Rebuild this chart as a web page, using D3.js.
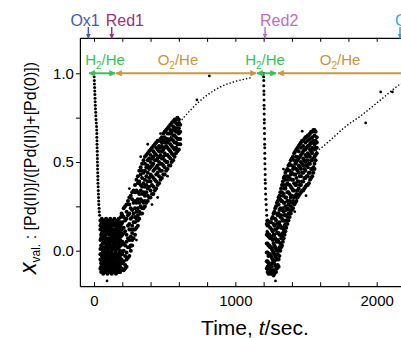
<!DOCTYPE html>
<html>
<head>
<meta charset="utf-8">
<script src="https://cdn.jsdelivr.net/npm/d3@7/dist/d3.min.js"></script>
<style>
  body { margin: 0; background: #fff; }
  svg { display: block; font-family: "Liberation Sans", Arial, sans-serif; }
</style>
</head>
<body>
<div id="chart"></div>
<script>
// values: t in sec, x_val
const dropOne = [[0,1.00],[1,0.98],[2,0.96],[3,0.94],[4,0.92],[5,0.90],[6,0.88],[7,0.86],[8,0.84],[9,0.82],[10,0.80],[12,0.78],[13,0.76],[14,0.74],[16,0.72],[18,0.70],[19,0.68],[20,0.66],[20,0.64],[21,0.62],[21,0.60],[22,0.58],[23,0.56],[23,0.54],[24,0.52],[24,0.50],[25,0.48],[25,0.46],[26,0.44],[27,0.42],[27,0.40],[28,0.38],[29,0.36],[30,0.34],[31,0.32],[32,0.30],[33,0.28],[34,0.26],[36,0.24],[37,0.22],[39,0.20]];

const dropTwo = [[1200,1.00],[1200,0.98],[1201,0.96],[1201,0.93],[1202,0.90],[1202,0.88],[1203,0.85],[1203,0.82],[1204,0.80],[1204,0.77],[1205,0.74],[1205,0.72],[1206,0.69],[1206,0.66],[1207,0.63],[1207,0.60],[1208,0.58],[1208,0.55],[1209,0.52],[1209,0.49],[1210,0.46],[1211,0.43],[1211,0.40],[1212,0.38],[1213,0.35],[1214,0.32],[1216,0.29],[1218,0.26],[1220,0.23],[1222,0.20],[1223,0.17],[1224,0.14],[1225,0.11]];

// dense clouds, one column of readings per time step
const cycleOne = [
  [45,[0.17,0.14,0.12,0.06,0.01,-0.02,-0.05,-0.10]],
  [50,[0.15,0.09,0.07,0.03,-0.02,-0.07,-0.09,-0.12]],
  [55,[0.18,0.13,0.10,0.08,0.02,-0.03,-0.06,-0.09,-0.11]],
  [60,[0.16,0.14,0.10,0.04,-0.01,-0.04,-0.06,-0.12]],
  [65,[0.16,0.11,0.08,0.06,0.00,-0.04,-0.08,-0.10,-0.13]],
  [70,[0.13,0.08,0.05,0.02,-0.03,-0.06,-0.10]],
  [75,[0.17,0.14,0.12,0.05,0.01,-0.02,-0.05,-0.08,-0.12]],
  [80,[0.15,0.09,0.07,0.04,-0.02,-0.04,-0.07,-0.11]],
  [85,[0.18,0.11,0.09,0.07,0.02,-0.01,-0.04,-0.09,-0.12]],
  [90,[0.14,0.12,0.10,0.03,-0.01,-0.06,-0.08,-0.10]],
  [95,[0.16,0.12,0.06,0.04,0.00,-0.03,-0.08,-0.11,-0.13]],
  [100,[0.13,0.10,0.07,0.02,-0.01,-0.04,-0.07,-0.11]],
  [105,[0.17,0.14,0.11,0.05,0.01,-0.05,-0.09,-0.12]],
  [110,[0.15,0.12,0.09,0.04,-0.02,-0.05,-0.07,-0.11]],
  [115,[0.18,0.13,0.07,0.05,0.03,-0.03,-0.08,-0.10,-0.12]],
  [120,[0.14,0.10,0.06,0.02,-0.01,-0.06,-0.10]],
  [125,[0.16,0.11,0.09,0.06,0.00,-0.02,-0.04,-0.09,-0.13]],
  [130,[0.12,0.08,0.05,0.03,-0.03,-0.07,-0.09,-0.11]],
  [135,[0.17,0.14,0.12,0.05,0.01,-0.05,-0.10,-0.12]],
  [140,[0.15,0.09,0.07,0.04,-0.02,-0.04,-0.08,-0.11]],
  [145,[0.18,0.11,0.09,0.07,0.02,-0.03,-0.07,-0.12]],
  [150,[0.14,0.12,0.10,0.03,-0.01,-0.06,-0.08,-0.10]],
  [155,[0.16,0.12,0.06,0.04,0.00,-0.04,-0.09,-0.11,-0.13]],
  [160,[0.13,0.08,0.05,0.02,-0.03,-0.05,-0.07,-0.11]],
  [165,[0.17,0.14,0.11,0.05,0.01,-0.02,-0.05,-0.10,-0.12]],
  [170,[0.15,0.12,0.09,0.04,-0.02,-0.08,-0.11]],
  [175,[0.18,0.13,0.07,0.05,0.02,-0.03,-0.07,-0.09,-0.12]],
  [180,[0.14,0.10,0.06,0.03,-0.01,-0.06,-0.10]],
  [185,[0.16,0.12,0.09,0.06,0.00,-0.04,-0.07,-0.09,-0.12]],
  [190,[0.19,0.13,0.10,0.08,0.03,-0.02,-0.07,-0.11]],
  [195,[0.21,0.15,0.12,0.09,0.04,-0.01,-0.05,-0.10]],
  [200,[0.20,0.16,0.09,0.05,-0.02,-0.07]],
  [210,[0.24,0.19,0.13,0.10,0.04,0.00,-0.06,-0.11]],
  [220,[0.25,0.17,0.11,0.03,-0.03,-0.08,-0.10]],
  [230,[0.26,0.22,0.18,0.09,0.05,-0.01,-0.05,-0.09]],
  [240,[0.28,0.20,0.14,0.07,0.02,-0.04]],
  [250,[0.30,0.26,0.21,0.15,0.12,0.06,0.02,-0.03]],
  [260,[0.31,0.24,0.18,0.12,0.08,0.03,0.00]],
  [270,[0.33,0.29,0.23,0.19,0.14,0.10,0.06,0.03]],
  [280,[0.34,0.27,0.21,0.16,0.12,0.07]],
  [290,[0.37,0.33,0.28,0.24,0.19,0.16,0.12,0.09]],
  [300,[0.40,0.34,0.27,0.22,0.18,0.13]],
  [310,[0.42,0.38,0.33,0.29,0.24,0.20,0.17,0.14]],
  [320,[0.45,0.39,0.32,0.27,0.22,0.18]],
  [330,[0.47,0.43,0.37,0.34,0.29,0.25,0.21]],
  [340,[0.49,0.45,0.41,0.36,0.32,0.28,0.24,0.21]],
  [350,[0.51,0.44,0.38,0.33,0.27,0.24]],
  [360,[0.53,0.49,0.45,0.40,0.36,0.31,0.28,0.25]],
  [370,[0.54,0.47,0.42,0.37,0.33,0.27]],
  [380,[0.55,0.51,0.48,0.44,0.39,0.35,0.31,0.28]],
  [390,[0.56,0.52,0.46,0.41,0.36,0.30]],
  [400,[0.57,0.54,0.50,0.47,0.43,0.39,0.34,0.30]],
  [410,[0.58,0.52,0.48,0.42,0.37,0.32]],
  [420,[0.59,0.56,0.53,0.49,0.45,0.41,0.36,0.32]],
  [430,[0.60,0.55,0.51,0.46,0.40,0.34]],
  [440,[0.61,0.58,0.54,0.51,0.47,0.43,0.39,0.35]],
  [450,[0.62,0.57,0.52,0.48,0.44,0.37]],
  [460,[0.62,0.59,0.56,0.53,0.50,0.46,0.42,0.38]],
  [470,[0.63,0.58,0.54,0.49,0.45,0.40]],
  [480,[0.64,0.61,0.59,0.56,0.52,0.49,0.45,0.41]],
  [490,[0.66,0.62,0.57,0.53,0.48,0.43]],
  [500,[0.67,0.64,0.61,0.58,0.55,0.51,0.47,0.43]],
  [510,[0.68,0.63,0.59,0.54,0.50,0.45]],
  [520,[0.69,0.66,0.63,0.61,0.58,0.54,0.50,0.46]],
  [530,[0.70,0.66,0.62,0.57,0.53,0.48]],
  [540,[0.71,0.68,0.66,0.63,0.60,0.56,0.52,0.48]],
  [550,[0.72,0.67,0.63,0.59,0.55,0.50]],
  [560,[0.73,0.70,0.68,0.65,0.62,0.58,0.54,0.51]],
  [570,[0.74,0.69,0.65,0.61,0.57,0.53]],
  [580,[0.74,0.72,0.69,0.67,0.64,0.61,0.58,0.55]],
  [590,[0.75,0.71,0.67,0.63,0.60,0.56]],
  [600,[0.74,0.72,0.69,0.66,0.63,0.60,0.57]],
  [610,[0.71,0.67,0.63,0.60]]
];

const cycleTwo = [
  [1222,[0.15,0.09,0.04,-0.01,-0.06,-0.10]],
  [1228,[0.17,0.10,0.04,-0.01,-0.06,-0.09,-0.12]],
  [1234,[0.14,0.08,0.03,-0.03,-0.07,-0.13]],
  [1240,[0.16,0.09,0.03,-0.02,-0.07,-0.10,-0.12]],
  [1246,[0.13,0.07,0.02,-0.02,-0.08,-0.13]],
  [1252,[0.16,0.08,0.02,-0.03,-0.08,-0.11]],
  [1258,[0.18,0.12,0.07,0.01,-0.04,-0.09,-0.13]],
  [1264,[0.19,0.11,0.06,0.00,-0.05,-0.07,-0.12]],
  [1270,[0.21,0.15,0.09,0.04,-0.01,-0.06,-0.11,-0.14]],
  [1276,[0.22,0.14,0.09,0.03,-0.02,-0.06,-0.11,-0.13]],
  [1282,[0.24,0.18,0.12,0.07,0.02,-0.03,-0.08,-0.12]],
  [1288,[0.25,0.17,0.12,0.06,0.01,-0.04,-0.09,-0.12]],
  [1294,[0.27,0.21,0.15,0.10,0.05,0.00,-0.05,-0.10]],
  [1300,[0.28,0.20,0.13,0.06,-0.02,-0.08]],
  [1306,[0.30,0.26,0.21,0.15,0.10,0.05,0.00,-0.05,-0.09]],
  [1312,[0.31,0.23,0.16,0.09,0.02,-0.03]],
  [1318,[0.33,0.29,0.24,0.19,0.14,0.09,0.04,0.00]],
  [1324,[0.35,0.28,0.20,0.13,0.07,0.02]],
  [1330,[0.37,0.33,0.28,0.23,0.18,0.13,0.08,0.03]],
  [1336,[0.39,0.31,0.24,0.17,0.10,0.05]],
  [1342,[0.41,0.37,0.32,0.27,0.22,0.17,0.12,0.07]],
  [1348,[0.42,0.35,0.27,0.20,0.14,0.09]],
  [1354,[0.44,0.40,0.35,0.30,0.25,0.20,0.15,0.11]],
  [1360,[0.45,0.37,0.30,0.23,0.17,0.13]],
  [1368,[0.46,0.42,0.38,0.33,0.28,0.24,0.19,0.15]],
  [1376,[0.48,0.40,0.33,0.26,0.21,0.17]],
  [1384,[0.49,0.45,0.41,0.37,0.32,0.28,0.23,0.19]],
  [1392,[0.51,0.43,0.36,0.30,0.25,0.21]],
  [1400,[0.52,0.48,0.44,0.40,0.35,0.31,0.27,0.23]],
  [1408,[0.53,0.46,0.40,0.34,0.28,0.24]],
  [1416,[0.55,0.51,0.47,0.43,0.38,0.34,0.30,0.26]],
  [1424,[0.56,0.49,0.43,0.37,0.31,0.27]],
  [1432,[0.57,0.53,0.50,0.46,0.41,0.37,0.32,0.28]],
  [1440,[0.58,0.51,0.45,0.39,0.34,0.30]],
  [1448,[0.59,0.56,0.52,0.48,0.44,0.39,0.35,0.31]],
  [1456,[0.60,0.53,0.47,0.42,0.37,0.32]],
  [1464,[0.61,0.58,0.54,0.50,0.46,0.42,0.37,0.33]],
  [1472,[0.62,0.55,0.49,0.44,0.39,0.34]],
  [1480,[0.62,0.59,0.56,0.52,0.48,0.44,0.39,0.34]],
  [1488,[0.63,0.57,0.51,0.46,0.41,0.35]],
  [1496,[0.64,0.61,0.57,0.54,0.50,0.45,0.41,0.36]],
  [1504,[0.64,0.58,0.53,0.48,0.42,0.37]],
  [1512,[0.65,0.62,0.59,0.55,0.51,0.47,0.42,0.37]],
  [1520,[0.65,0.59,0.54,0.49,0.44,0.38]],
  [1528,[0.66,0.63,0.60,0.57,0.53,0.49,0.44,0.40]],
  [1536,[0.67,0.61,0.56,0.51,0.46,0.41]],
  [1544,[0.67,0.64,0.61,0.58,0.55,0.51,0.46,0.42]],
  [1552,[0.68,0.62,0.57,0.52,0.47,0.44]],
  [1560,[0.68,0.65,0.62,0.60,0.57,0.53,0.49,0.46]],
  [1568,[0.67,0.62,0.58,0.54,0.51]],
  [1576,[0.64,0.61,0.58,0.55]]
];

const strays = [[92,-0.17],[1284,-0.17],[728,0.85],[816,0.985],[1473,0.674],[1922,0.72],[2028,0.895],[2111,0.895],
  [250,0.35],[300,0.06],[330,0.53],[380,0.60],[410,0.26],[450,0.30],[470,0.66],[520,0.42],[1340,0.46],[1420,0.22],[1500,0.31]];

// dotted recovery curves
const fitOne = [[540,0.64],[610,0.725],[704,0.81],[799,0.876],[894,0.923],[988,0.951],[1083,0.97],[1110,0.975]];
const fitTwo = [[1570,0.56],[1603,0.577],[1695,0.64],[1780,0.70],[1887,0.76],[2028,0.85],[2170,0.94],[2250,0.97]];

// event markers above the frame
const eventNames = ["Ox1", "Red1", "Red2", "Ox2"];
const eventT = [-40, 125, 1210, 2165];

// gas feed arrows at x_val = 1.0
const gasNames = ["H2/He", "O2/He", "H2/He", "O2/He"];
const gasStart = [-35, 156, 1153, 1302];
const gasEnd = [149, 1146, 1288, 2400];
const gasLabelT = [78, 594, 1210, 1741];

const xTicks = [0, 200, 400, 600, 800, 1000, 1200, 1400, 1600, 1800, 2000, 2200];
const xLabels = [0, 1000, 2000];
const yTicks = [0, 0.25, 0.5, 0.75, 1.0];
const yLabels = [0, 0.5, 1.0];

const W = 401, H = 338;
const eventColors = ["#4658b0", "#963278", "#bd6ebd", "#1eaae6"];
const eventDx = [-18, -6, -5, -5];
const green = "#3dbe55", gold = "#c8963c";

const x = d3.scaleLinear().domain([-100, 2300]).range([79.9, 79.9 + 2400 * 0.14133]);
const y = d3.scaleLinear().domain([-0.2, 1.2]).range([286.2, 37.8]);

const svg = d3.select("#chart").append("svg")
  .attr("width", W)
  .attr("height", H);

const defs = svg.append("defs");
function head(id, color) {
  defs.append("marker")
    .attr("id", id)
    .attr("viewBox", "0 0 10 10")
    .attr("refX", 9).attr("refY", 5)
    .attr("markerWidth", 3.2).attr("markerHeight", 3.2)
    .attr("orient", "auto-start-reverse")
    .append("path")
    .attr("d", "M0,0 L10,5 L0,10 Z")
    .attr("fill", color);
}
head("hGreen", green);
head("hGold", gold);
eventColors.forEach((c, i) => head("hEv" + i, c));

// axes
const bottomAxis = svg.append("g")
  .attr("transform", `translate(0,${y(-0.2)})`)
  .call(d3.axisBottom(x).tickValues(xTicks).tickSize(-4).tickSizeOuter(0).tickPadding(9)
    .tickFormat(d => xLabels.includes(d) ? d : ""));

const topAxis = svg.append("g")
  .attr("transform", `translate(0,${y(1.2)})`)
  .call(d3.axisTop(x).tickValues(xTicks).tickSize(-4).tickSizeOuter(0).tickFormat(""));

const leftAxis = svg.append("g")
  .attr("transform", `translate(${x(-100)},0)`)
  .call(d3.axisLeft(y).tickValues(yTicks).tickSize(4).tickSizeOuter(0).tickPadding(2)
    .tickFormat(d => yLabels.includes(d) ? d3.format(".1f")(d) : ""));

[bottomAxis, topAxis, leftAxis].forEach(g => {
  g.select(".domain").attr("stroke", "#000").attr("stroke-width", 1.2);
  g.selectAll(".tick line").attr("stroke", "#000").attr("stroke-width", 1);
  g.selectAll(".tick text").attr("fill", "#000").style("font-size", "15px")
    .style("font-family", '"Liberation Sans", Arial, sans-serif');
});

// points
const cloud = pts => pts.flatMap(([t, vs]) => vs.map(v => [t, v]));
function dots(data, r) {
  svg.append("g").selectAll("circle")
    .data(data)
    .join("circle")
    .attr("cx", d => x(d[0]))
    .attr("cy", d => y(d[1]))
    .attr("r", r)
    .attr("fill", "#000");
}
dots(dropOne.concat(dropTwo), 1.5);
dots(cloud(cycleOne).concat(cloud(cycleTwo)), 2.0);
dots(strays, 1.4);

const line = d3.line().x(d => x(d[0])).y(d => y(d[1])).curve(d3.curveMonotoneX);
[fitOne, fitTwo].forEach(f => {
  svg.append("path")
    .attr("d", line(f))
    .attr("fill", "none")
    .attr("stroke", "#000")
    .attr("stroke-width", 1.4)
    .attr("stroke-dasharray", "1.4 2");
});

// gas arrows
gasNames.forEach((name, i) => {
  const c = name.startsWith("H") ? green : gold;
  const m = name.startsWith("H") ? "hGreen" : "hGold";
  svg.append("line")
    .attr("x1", x(gasStart[i])).attr("x2", x(gasEnd[i]))
    .attr("y1", y(1.0)).attr("y2", y(1.0))
    .attr("stroke", c).attr("stroke-width", 2)
    .attr("marker-start", `url(#${m})`)
    .attr("marker-end", `url(#${m})`);
  const t = svg.append("text")
    .attr("x", x(gasLabelT[i])).attr("y", 65)
    .attr("text-anchor", "middle")
    .attr("fill", c)
    .style("font-size", "15px");
  t.append("tspan").text(name[0]);
  t.append("tspan").attr("dy", 4).style("font-size", "10px").text("2");
  t.append("tspan").attr("dy", -4).text(name.slice(2));
});

// event arrows
eventNames.forEach((name, i) => {
  const ex = x(eventT[i]);
  svg.append("line")
    .attr("x1", ex).attr("x2", ex)
    .attr("y1", 27).attr("y2", y(1.2) + 0.5)
    .attr("stroke", eventColors[i]).attr("stroke-width", 1.5)
    .attr("marker-end", `url(#hEv${i})`);
  svg.append("text")
    .attr("x", ex + eventDx[i]).attr("y", 25.5)
    .attr("fill", eventColors[i])
    .style("font-size", "16px")
    .text(name);
});

// axis titles
const xt = svg.append("text")
  .attr("x", 255).attr("y", 335)
  .attr("text-anchor", "middle")
  .style("font-size", "21px");
xt.append("tspan").text("Time, ");
xt.append("tspan").style("font-style", "italic").text("t");
xt.append("tspan").text("/sec.");

const yt = svg.append("text")
  .attr("transform", "translate(36,168) rotate(-90)")
  .attr("text-anchor", "middle")
  .style("font-size", "16px");
yt.append("tspan").style("font-style", "italic").style("font-size", "23px").text("x");
yt.append("tspan").attr("dy", 4).style("font-size", "12px").text("val.");
yt.append("tspan").attr("dy", -4).text(" : [Pd(II)]/([Pd(II)]+[Pd(0)])");
</script>
</body>
</html>
